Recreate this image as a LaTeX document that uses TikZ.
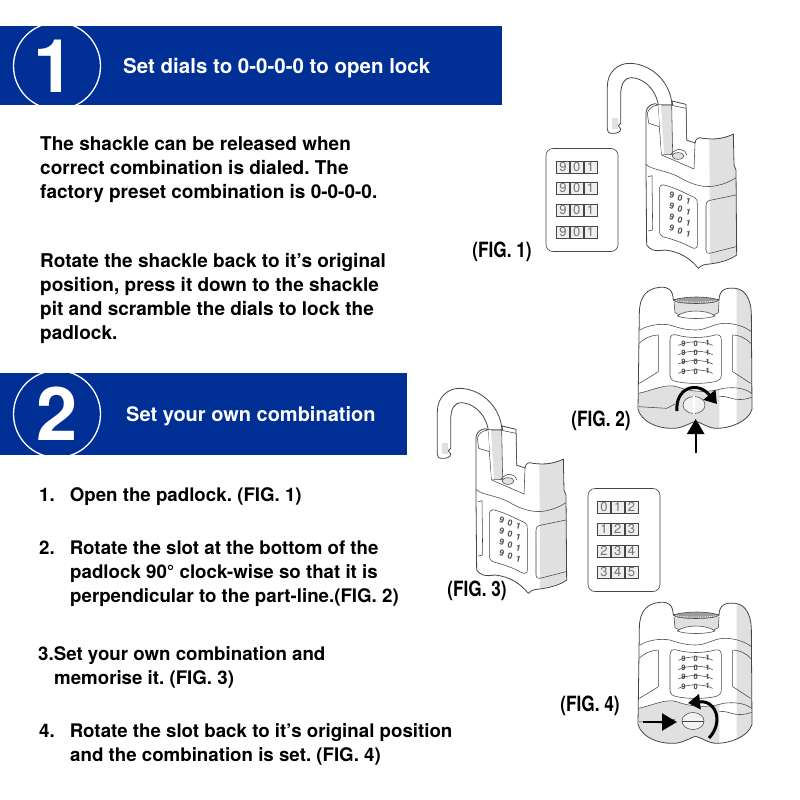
\documentclass[tikz,border=0pt]{standalone}
\usepackage{fontspec}
\setmainfont{TeX Gyre Heros}
\frenchspacing
\definecolor{bannerblue}{RGB}{0,48,150}
\definecolor{lockgrey}{RGB}{224,224,224}
\definecolor{lockline}{RGB}{70,70,70}
\usetikzlibrary{arrows.meta,positioning,shapes.geometric}
\newcommand{\figtext}[1]{\scalebox{0.82}[1]{#1}}
\tikzset{
    banner/.style={fill=bannerblue,draw=none},
    bannernum/.style={circle,draw=white,line width=1.3pt,text=white,minimum size=87pt,inner sep=0pt,font=\bfseries\fontsize{74}{74}\selectfont},
    bannertext/.style={anchor=west,text=white,inner sep=0pt},
    bodytext/.style={anchor=north west,inner sep=0pt,align=left,font=\bfseries\fontsize{19}{24}\selectfont},
    itemtext/.style={bodytext,font=\bfseries\fontsize{18.7}{24}\selectfont},
    figlabel/.style={anchor=center,inner sep=0pt,font=\bfseries\fontsize{21}{22}\selectfont},
    lockedge/.style={draw=lockline,line width=0.8pt,line join=round},
    lockthin/.style={draw=lockline,line width=0.55pt,line join=round},
    dialcard/.style={rectangle,rounded corners=7pt,draw=lockline,line width=0.6pt,minimum width=72pt,minimum height=103pt},
    dialcell/.style={rectangle,draw=lockline,line width=0.5pt,fill=lockgrey!50,minimum width=13.3pt,minimum height=11.5pt,inner sep=0pt,text=black!55,font=\fontsize{13}{11}\selectfont},
    turnarrow/.style={line width=3pt,-{Triangle[length=12pt,width=15pt]}},
    pusharrow/.style={line width=2.4pt,-{Triangle[length=15pt,width=17pt]}},
    slotring/.style={lockthin,fill=lockgrey!40}
}
% one row of dials on a card
\newcommand{\dialrow}[5]{
    \node[dialcell] (#1a) at (#2) {#3};
    \node[dialcell,right=0pt of #1a] (#1b) {#4};
    \node[dialcell,right=0pt of #1b] (#1c) {#5};
}
\def\openbody{(168,172) .. controls (170,155) and (182,148) .. (196,146)
            -- (204,150) -- (248,150) -- (246,138) -- (288,148) -- (290,256) -- (315,264)
            .. controls (318,248) and (325,246) .. (340,250)
            .. controls (375,255) and (405,250) .. (430,237)
            -- (432,330) -- (438,345) -- (440,600)
            .. controls (420,615) and (385,625) .. (350,628) .. controls (335,630) and (330,635) .. (325,640)
            .. controls (300,610) and (270,590) .. (225,585) .. controls (195,590) and (180,585) .. (170,570)
            -- (168,350) -- cycle}
\def\frontbody{(238,100) .. controls (238,50) and (260,25) .. (300,22)
            .. controls (325,20) and (338,28) .. (340,60)
            .. controls (380,52) and (440,52) .. (477,60)
            .. controls (478,30) and (495,22) .. (525,25)
            .. controls (555,28) and (572,55) .. (574,100)
            -- (576,388) .. controls (565,425) and (510,445) .. (470,445)
            .. controls (445,445) and (425,428) .. (407,424)
            .. controls (390,428) and (365,447) .. (335,445)
            .. controls (290,445) and (245,425) .. (234,388) -- cycle}
\tikzset{
    openlock/.pic={
        \begin{scope}[scale=1/3]
        % shackle
        \path[lockedge,fill=white] (205,150) .. controls (195,95) and (155,68) .. (122,68)
            .. controls (105,68) and (92,85) .. (92,120) -- (92,205) -- (85,212) -- (92,222)
            .. controls (92,232) and (80,236) .. (65,235) .. controls (55,235) and (52,230) .. (52,222)
            -- (52,95) .. controls (52,50) and (85,25) .. (118,25)
            .. controls (175,25) and (235,70) .. (245,140) -- (248,300) -- (215,300) -- cycle;
        \fill[lockgrey] (66,190) -- (85,190) -- (85,222) -- (66,222) -- cycle;
        % body
        \path[fill=white] \openbody;
        \fill[lockgrey] (358,255) -- (429,240) -- (431,330) -- (437,345) -- (438,598)
            .. controls (420,612) and (385,622) .. (360,626) -- cycle;
        \path[lockedge] \openbody;
        \path[lockthin,fill=white] (172,175) -- (176,205) -- (208,215) -- (215,300) -- (312,342) -- (315,264)
            -- (290,256) -- (288,160) -- (250,152) -- (204,150) .. controls (188,152) and (175,160) .. (172,175) -- cycle;
        \path[lockthin,fill=lockgrey] (205,150) -- (245,150) -- (248,298) -- (215,298) -- cycle;
        \fill[white] (205,150) -- (213,150) -- (222,298) -- (215,298) -- cycle;
        \path[lockthin] (240,300) .. controls (260,275) and (285,280) .. (290,300);
        \path[lockthin,fill=lockgrey] (264,303) ellipse [x radius=18,y radius=10];
        \path[lockthin] (168,328) .. controls (185,345) and (225,345) .. (265,365)
            .. controls (305,390) and (345,400) .. (380,392) .. controls (400,388) and (420,380) .. (438,368);
        \path[lockthin,fill=white] (208,400) .. controls (210,388) and (220,388) .. (230,392)
            .. controls (265,402) and (295,420) .. (315,428) .. controls (322,432) and (322,440) .. (322,450)
            -- (322,570) .. controls (322,580) and (315,582) .. (305,578)
            .. controls (270,558) and (235,550) .. (218,545) .. controls (210,542) and (208,535) .. (208,525) -- cycle;
        \path[lockthin] (348,452) .. controls (348,440) and (355,436) .. (365,435)
            -- (438,420);
        \path[lockthin] (348,452) -- (348,585) .. controls (348,592) and (352,597) .. (360,595) -- (438,575);
        \path[lockthin] (174,365) -- (186,362) -- (188,525) -- (174,528);
        \foreach \dy [count=\di] in {0,33,66,99} {
            \foreach \dx/\dn in {0/9,26/0,52/1} {
                \node[inner sep=0pt,text=black!70,font=\bfseries\fontsize{8.5}{7}\selectfont,rotate=-14]
                    (lk\di\dn) at ({246+\dx*0.95},{420+\dy+\dx*0.35}) {\dn};
            }
        }
        \end{scope}
    },
    frontlock/.pic={
        \begin{scope}[scale=1/3]
        \path[fill=white] \frontbody;
        % grey faces
        \fill[lockgrey] (530,25) .. controls (555,28) and (572,55) .. (574,100) -- (576,388)
            .. controls (565,410) and (550,425) .. (530,435) -- cycle;
        \fill[lockgrey] (236,340) .. controls (280,330) and (320,310) .. (350,320)
            .. controls (390,335) and (430,340) .. (478,328) -- (478,445) -- (470,445)
            .. controls (445,445) and (425,428) .. (407,424)
            .. controls (390,428) and (365,447) .. (335,445)
            .. controls (290,445) and (245,425) .. (236,388) -- cycle;
        \path[lockedge] \frontbody;
        % dial ring behind the slot
        \fill[lockgrey] (342,66) -- (345,98) .. controls (380,112) and (440,112) .. (475,98) -- (477,66) -- cycle;
        \path[lockthin,fill=lockgrey!70!black] (340,60) .. controls (380,48) and (440,48) .. (477,60)
            .. controls (470,74) and (345,74) .. (340,60) -- cycle;
        \draw[white,line width=0.9pt,dash pattern=on 1pt off 1.2pt] (348,62) .. controls (385,68) and (435,68) .. (470,62);
        \path[lockthin] (342,66) -- (345,98) .. controls (380,120) and (440,120) .. (475,98) -- (477,66);
        \path[lockthin,fill=white] (352,108) .. controls (375,88) and (440,88) .. (465,108)
            .. controls (440,118) and (375,118) .. (352,108) -- cycle;
        % collar and panels
        \path[lockthin] (240,150) .. controls (265,135) and (300,130) .. (330,135)
            .. controls (360,145) and (380,150) .. (407,150) .. controls (440,150) and (460,130) .. (495,130)
            .. controls (525,130) and (555,140) .. (574,155);
        \path[lockthin,fill=white] (330,180) .. controls (330,165) and (338,162) .. (350,165)
            .. controls (385,175) and (430,175) .. (465,165) .. controls (478,162) and (484,168) .. (484,180)
            -- (484,285) .. controls (484,298) and (475,302) .. (465,305)
            .. controls (430,312) and (385,312) .. (350,305) .. controls (338,302) and (330,298) .. (330,285) -- cycle;
        \path[lockthin] (238,190) .. controls (255,172) and (280,165) .. (295,165)
            -- (295,275) .. controls (280,285) and (255,300) .. (238,310);
        \path[lockthin] (572,190) .. controls (555,172) and (535,165) .. (518,165)
            -- (518,275) .. controls (535,285) and (555,300) .. (572,310);
        \path[lockthin] (236,340) .. controls (280,330) and (320,310) .. (350,320)
            .. controls (390,335) and (440,340) .. (490,325) .. controls (525,320) and (555,325) .. (575,340);
        \path[lockthin] (236,380) -- (320,385) -- (345,372);
        \path[lockthin] (478,350) .. controls (510,345) and (520,370) .. (575,352);
        \foreach \dy [count=\di] in {0,28,56,84} {
            \path[lockthin] (355,{196+\dy}) .. controls (385,{182+\dy}) and (430,{182+\dy}) .. (458,{196+\dy});
            \foreach \dx/\dn in {0/9,37/0,73/1} {
                \node[inner sep=0pt,text=black!75,font=\bfseries\fontsize{7.5}{6}\selectfont] (fk\di\dn) at ({370+\dx},{190+\dy}) {\dn};
            }
        }
        \end{scope}
    }
}
\begin{document}
\begin{tikzpicture}[x=1pt,y=-1pt]
    \useasboundingbox (0,0) rectangle (800,800);
    \fill[white] (0,0) rectangle (800,800);

    % step one
    \path[banner] (0,26) rectangle (502,105);
    \node[bannernum] (num1) at (57,66) {\hspace{-6pt}1};
    \node[bannertext,font=\bfseries\fontsize{20.5}{23}\selectfont] (head1) at (123,68) {Set dials to 0-0-0-0 to open lock};
    \node[bodytext] (text1) at (40,136) {The shackle can be released when\\correct combination is dialed. The\\factory preset combination is 0-0-0-0.};
    \node[bodytext] (text2) at (40,253) {Rotate the shackle back to it's original\\position, press it down to the shackle\\pit and scramble the dials to lock the\\padlock.};

    % step two
    \path[banner] (0,373) rectangle (407,455);
    \node[bannernum] (num2) at (57,414) {2};
    \node[bannertext,font=\bfseries\fontsize{20}{23}\selectfont] (head2) at (126,416) {Set your own combination};
    \node[itemtext] (item1) at (39,487) {1.\hspace{15pt}Open the padlock. (FIG. 1)};
    \node[itemtext] (item2) at (39,541) {2.\hspace{15pt}Rotate the slot at the bottom of the\\\hspace{31pt}padlock 90\textdegree{} clock-wise so that it is\\\hspace{31pt}perpendicular to the part-line.(FIG. 2)};
    \node[itemtext] (item3) at (38,646) {3.Set your own combination and\\\hspace{16pt}memorise it. (FIG. 3)};
    \node[itemtext] (item4) at (39,723) {4.\hspace{15pt}Rotate the slot back to it's original position\\\hspace{31pt}and the combination is set. (FIG. 4)};

    % padlocks
    \pic at (590,55) {openlock};
    \pic at (420,380) {openlock};
    \pic at (560,280) {frontlock};
    \pic at (560,595) {frontlock};

    % slots
    \node[slotring,ellipse,minimum width=22pt,minimum height=17pt,inner sep=0pt] (slot2) at (694,405) {};
    \draw[lockthin,double,double distance=1.6pt] (slot2.north) -- (slot2.south);
    \node[slotring,ellipse,minimum width=22pt,minimum height=17pt,inner sep=0pt] (slot4) at (693,721) {};
    \draw[lockthin] (slot4.west) -- (slot4.east);

    % cards
    \node[dialcard] (card1) at (582,200) {};
    \foreach \ry/\rname in {167/a,188/b,210/c,232/d} {
        \dialrow{rowone\rname}{563,\ry}{9}{0}{1}
    }
    \node[dialcard] (card3) at (624,540) {};
    \dialrow{rowthreea}{604,507}{0}{1}{2}
    \dialrow{rowthreeb}{604,529}{1}{2}{3}
    \dialrow{rowthreec}{604,551}{2}{3}{4}
    \dialrow{rowthreed}{604,572}{3}{4}{5}

    % arrows
    \coordinate (turn2a) at (677,411);
    \coordinate (turn2b) at (717,404);
    \coordinate (push2a) at (695.7,453);
    \coordinate (push2b) at (695.7,419);
    \draw[turnarrow] (turn2a) .. controls (675,388) and (697,380) .. (turn2b);
    \draw[pusharrow] (push2a) -- (push2b);
    \coordinate (push4a) at (643,722);
    \coordinate (push4b) at (677,722);
    \coordinate (turn4a) at (709,738);
    \coordinate (turn4b) at (688,703);
    \draw[pusharrow] (push4a) -- (push4b);
    \draw[turnarrow] (turn4a) .. controls (724,722) and (716,700) .. (turn4b);

    % labels
    \node[figlabel] (fig1) at (502,252) {\figtext{(FIG. 1)}};
    \node[figlabel] (fig2) at (601,421) {\figtext{(FIG. 2)}};
    \node[figlabel] (fig3) at (477,591) {\figtext{(FIG. 3)}};
    \node[figlabel] (fig4) at (590,706) {\figtext{(FIG. 4)}};
\end{tikzpicture}
\end{document}
